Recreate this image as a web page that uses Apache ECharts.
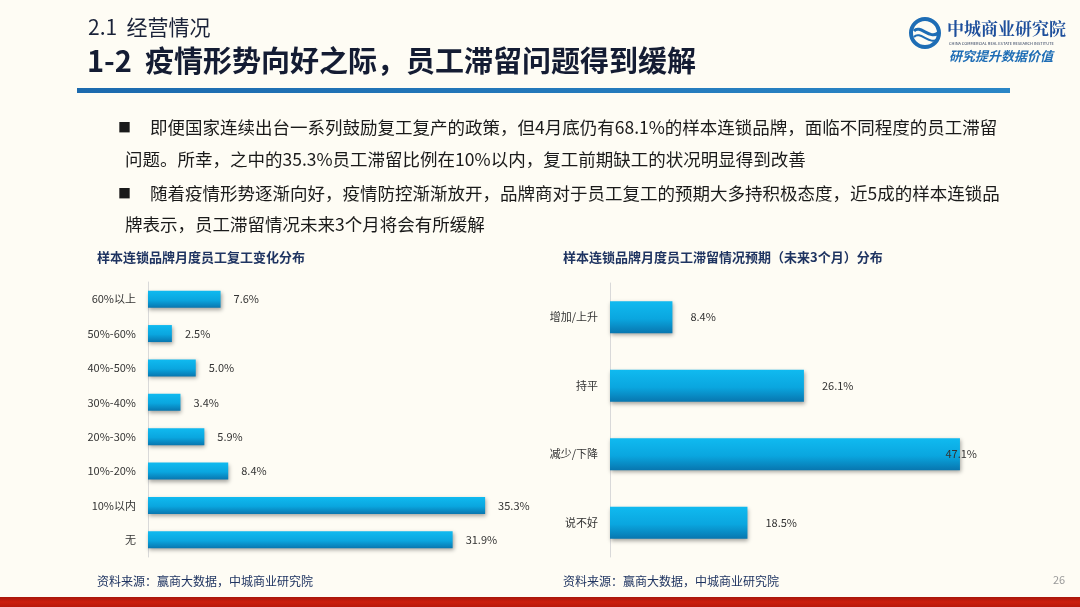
<!DOCTYPE html>
<html><head><meta charset="utf-8">
<script src="https://cdn.jsdelivr.net/npm/echarts@6/dist/echarts.min.js"></script>
<style>html,body{margin:0;padding:0;background:#FEFCF4;}#c{width:1080px;height:607px;}</style>
</head><body><div id="c"></div>
<script>
var leftCategories = ['60%以上','50%-60%','40%-50%','30%-40%','20%-30%','10%-20%','10%以内','无'];
var leftValues = [7.6, 2.5, 5.0, 3.4, 5.9, 8.4, 35.3, 31.9];
var rightCategories = ['增加/上升','持平','减少/下降','说不好'];
var rightValues = [8.4, 26.1, 47.1, 18.5];

var FONT = '"Noto Sans CJK SC", "Noto Sans", sans-serif';
var chart = echarts.init(document.getElementById('c'));

function barColor(){
  return new echarts.graphic.LinearGradient(0,0,0,1,[
    {offset:0,color:'#10BAF0'},
    {offset:0.55,color:'#0AA6DF'},
    {offset:1,color:'#0876AF'}
  ]);
}
var barStyle = {color: barColor(), shadowColor:'rgba(0,0,0,0.35)', shadowBlur:4, shadowOffsetX:1, shadowOffsetY:2};
function fmt(p){ return p.value.toFixed(1) + '%'; }

var rightData = rightValues.map(function(v,i){
  var d = {value:v};
  if (i === 2) d.label = {position:'insideRight', offset:[22,0], distance:5};
  return d;
});

function txt(x, y, s, fill, font){
  return {type:'text', x:x, y:y, style:{text:s, fill:fill, font:font}};
}
var BODY = '17.5px ' + FONT;
var graphics = [
  txt(88, 17, '2.1  经营情况', '#1a2238', '21px ' + FONT),
  txt(87, 46, '1-2  疫情形势向好之际，员工滞留问题得到缓解', '#141c33', 'bold 29px ' + FONT),
  {type:'rect', shape:{x:77,y:88,width:933,height:5}, style:{fill:new echarts.graphic.LinearGradient(0,0,1,0,[{offset:0,color:'#1C6AAE'},{offset:1,color:'#2A86C6'}])}},
  txt(118, 121, '■', '#1a1a1a', '13px ' + FONT),
  txt(150, 119, '即便国家连续出台一系列鼓励复工复产的政策，但4月底仍有68.1%的样本连锁品牌，面临不同程度的员工滞留', '#1a1a1a', BODY),
  txt(125, 151, '问题。所幸，之中的35.3%员工滞留比例在10%以内，复工前期缺工的状况明显得到改善', '#1a1a1a', BODY),
  txt(118, 187, '■', '#1a1a1a', '13px ' + FONT),
  txt(150, 185, '随着疫情形势逐渐向好，疫情防控渐渐放开，品牌商对于员工复工的预期大多持积极态度，近5成的样本连锁品', '#1a1a1a', BODY),
  txt(125, 216, '牌表示，员工滞留情况未来3个月将会有所缓解', '#1a1a1a', BODY),
  txt(97, 251, '样本连锁品牌月度员工复工变化分布', '#1F3461', 'bold 13px ' + FONT),
  txt(563, 251, '样本连锁品牌月度员工滞留情况预期（未来3个月）分布', '#1F3461', 'bold 13px ' + FONT),
  txt(97, 575, '资料来源：赢商大数据，中城商业研究院', '#1F3461', '12px ' + FONT),
  txt(563, 575, '资料来源：赢商大数据，中城商业研究院', '#1F3461', '12px ' + FONT),
  txt(1053, 574, '26', '#9a9a9a', '11px ' + FONT),
  {type:'rect', shape:{x:0,y:597,width:1080,height:10}, style:{fill:new echarts.graphic.LinearGradient(0,0,0,1,[{offset:0,color:'#A8160A'},{offset:0.5,color:'#CC1E0E'},{offset:1,color:'#B8180B'}])}},
  // logo
  {type:'circle', shape:{cx:925,cy:33,r:14}, style:{fill:'none', stroke:'#1E6DB5', lineWidth:4}},
  {type:'bezierCurve', shape:{x1:914,y1:31,x2:938,y2:33,cpx1:920,cpy1:24,cpx2:930,cpy2:40}, style:{fill:'none', stroke:'#1E6DB5', lineWidth:3}},
  {type:'bezierCurve', shape:{x1:914,y1:37,x2:938,y2:39,cpx1:920,cpy1:30,cpx2:930,cpy2:46}, style:{fill:'none', stroke:'#1E6DB5', lineWidth:2}},
  txt(947, 20, '中城商业研究院', '#1E4F9C', 'bold 17px "Noto Serif CJK SC", "Noto Sans CJK SC", serif'),
  txt(949, 41, 'CHINA COMMERCIAL REAL ESTATE RESEARCH INSTITUTE', '#2a3a5a', '4px ' + FONT),
  txt(949, 50, '研究提升数据价值', '#1E6DB5', 'italic bold 13px ' + FONT)
];

chart.setOption({
  backgroundColor:'#FEFCF4',
  animation:false,
  grid:[
    {left:148, top:282, width:382, height:275},
    {left:610, top:283, width:371.5, height:274}
  ],
  xAxis:[
    {gridIndex:0, type:'value', min:0, max:40, show:false},
    {gridIndex:1, type:'value', min:0, max:50, show:false}
  ],
  yAxis:[
    {gridIndex:0, type:'category', inverse:true, data:leftCategories,
     axisLine:{show:true, lineStyle:{color:'#D9D9D9', width:1}}, axisTick:{show:false},
     axisLabel:{color:'#333', fontSize:11, margin:12, fontFamily:FONT}},
    {gridIndex:1, type:'category', inverse:true, data:rightCategories,
     axisLine:{show:true, lineStyle:{color:'#D9D9D9', width:1}}, axisTick:{show:false},
     axisLabel:{color:'#333', fontSize:11, margin:12, fontFamily:FONT}}
  ],
  series:[
    {type:'bar', xAxisIndex:0, yAxisIndex:0, data:leftValues, barWidth:17, itemStyle:barStyle,
     label:{show:true, position:'right', distance:13, color:'#333', fontSize:11, fontFamily:FONT, formatter:fmt}},
    {type:'bar', xAxisIndex:1, yAxisIndex:1, data:rightData, barWidth:32, itemStyle:barStyle,
     label:{show:true, position:'right', distance:18, color:'#333', fontSize:11, fontFamily:FONT, formatter:fmt}}
  ],
  graphic:graphics
});
</script></body></html>
